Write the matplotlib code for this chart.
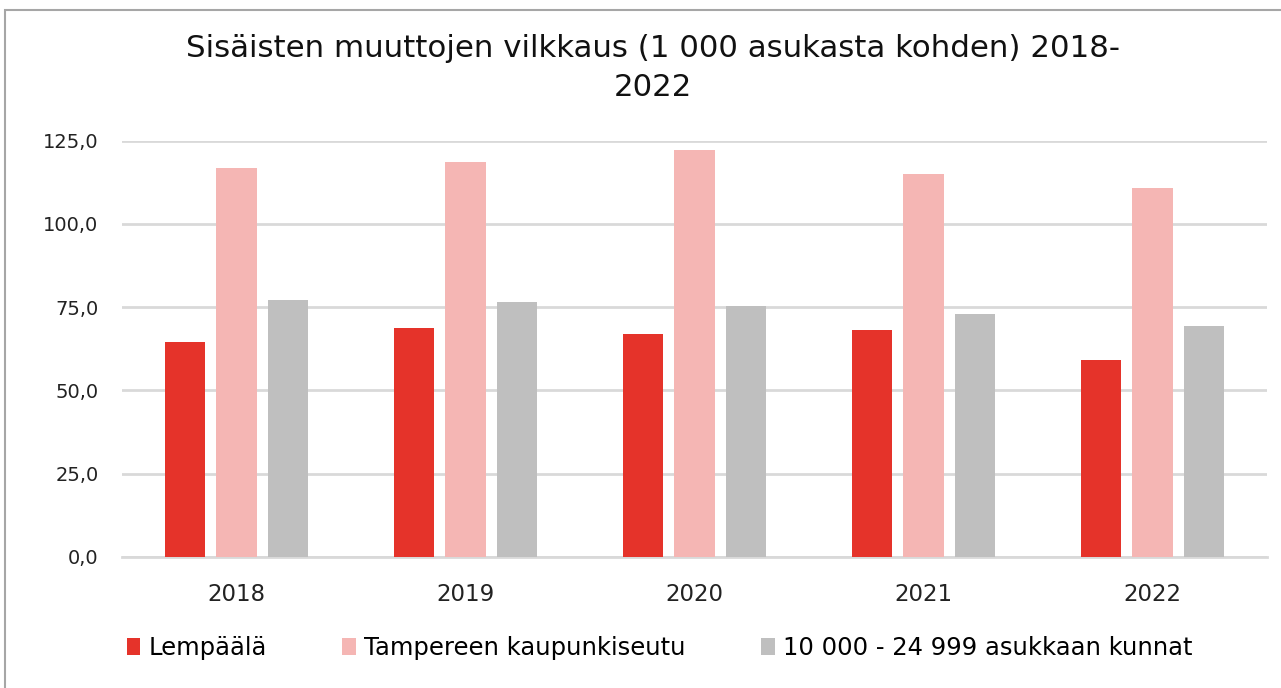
import numpy as np
import matplotlib.pyplot as plt
from matplotlib.patches import Rectangle

# data
years = ['2018', '2019', '2020', '2021', '2022']
lempaala = [64.7, 68.9, 67.1, 68.3, 59.3]
tampere_seutu = [116.7, 118.5, 122.1, 114.9, 110.7]
kunnat_10k_25k = [77.2, 76.6, 75.4, 73.0, 69.4]
series_names = ['Lempäälä', 'Tampereen kaupunkiseutu', '10 000 - 24 999 asukkaan kunnat']
yticks = [0, 25, 50, 75, 100, 125]

plt.rcParams['font.family'] = ['DejaVu Sans']

fig = plt.figure(figsize=(12.81, 6.88), dpi=100)
ax = fig.add_axes([122 / 1281, 1 - 557 / 688, 1145 / 1281, (557 - 140.7) / 688])

x = np.arange(len(years))
w = 0.175
off = 0.223
colors = ['#e5332a', '#f5b6b4', '#bfbfbf']
for i, (vals, col, name) in enumerate(zip([lempaala, tampere_seutu, kunnat_10k_25k], colors, series_names)):
    ax.bar(x + (i - 1) * off, vals, width=w, color=col, label=name, zorder=3)

ax.set_xlim(-0.5, len(years) - 0.5)
ax.set_ylim(0, 125)
ax.set_yticks(yticks)
ax.set_yticklabels([f'{v:.1f}'.replace('.', ',') for v in yticks])
ax.set_xticks(x)
ax.set_xticklabels(years)
ax.grid(axis='y', color='#d9d9d9', linewidth=2, zorder=0)
for s in ['top', 'right', 'left']:
    ax.spines[s].set_visible(False)
ax.spines['bottom'].set_color('#d9d9d9')
ax.spines['bottom'].set_linewidth(2)
ax.tick_params(axis='both', length=0, colors='#222222')
ax.tick_params(axis='y', pad=17, labelsize=14)
ax.tick_params(axis='x', pad=19, labelsize=16.5)

fig.text(0.51, 1 - 68 / 688,
         'Sisäisten muuttojen vilkkaus (1 000 asukasta kohden) 2018-\n2022',
         ha='center', va='center', fontsize=22.2, linespacing=1.4, color='#111111')

fig.legend(loc='center', bbox_to_anchor=(0.515, 1 - 648 / 688), ncol=3, frameon=False,
           fontsize=17.5, handlelength=0.55, handleheight=0.75, handletextpad=0.35,
           columnspacing=3.1)

# outer chart border
fig.patches.append(Rectangle((5 / 1281, -0.1), 1.2, 1 - 10 / 688 + 0.1,
                             transform=fig.transFigure, fill=False,
                             edgecolor='#a6a6a6', linewidth=1.5))

fig.savefig('out.png', dpi=100)
